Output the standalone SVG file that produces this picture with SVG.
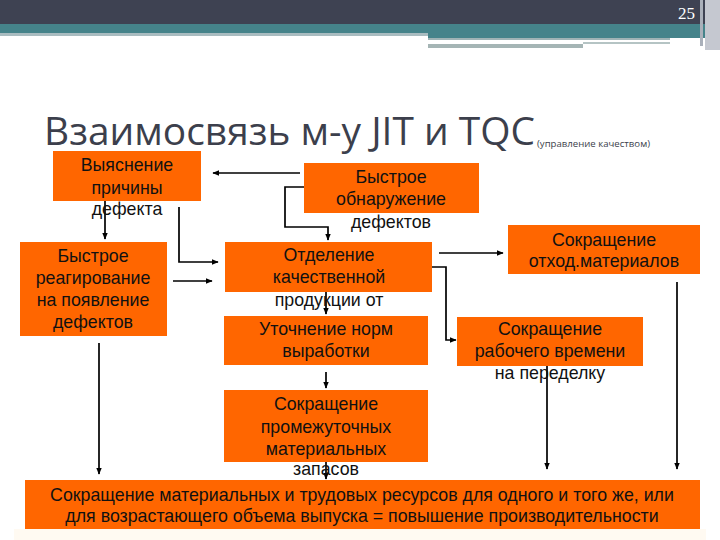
<svg xmlns="http://www.w3.org/2000/svg" width="720" height="540" viewBox="0 0 720 540">
<defs>
<style>
.box{fill:#ff6600;}
.t{font-family:"Liberation Sans",Arial,sans-serif;font-size:17.8px;fill:#111;text-anchor:middle;}
.c{fill:none;stroke:#000;stroke-width:1.7;}
</style>
<marker id="ah" viewBox="0 0 10 10" refX="9" refY="5" markerWidth="7" markerHeight="7" markerUnits="userSpaceOnUse" orient="auto">
<path d="M0,1 L10,5 L0,9 z" fill="#000"/>
</marker>
</defs>
<rect width="720" height="540" fill="#fff"/>
<g id="header">
<rect x="0" y="0" width="705" height="24" fill="#3e4252"/>
<rect x="0" y="24" width="705" height="10" fill="#45838a"/>
<rect x="0" y="33" width="428" height="3" fill="#a9bcc0"/>
<rect x="428" y="33" width="277" height="5" fill="#45838a"/>
<rect x="428" y="38" width="242" height="2" fill="#9fb3b5"/>
<rect x="428" y="40" width="242" height="4" fill="#ffffff"/>
<rect x="428" y="44" width="155" height="4" fill="#a5b5b5"/>
<rect x="583" y="42" width="87" height="2" fill="#b5c4c4"/>
<rect x="705" y="0" width="15" height="50" fill="#c5c8d0"/>
<rect x="700" y="0" width="3" height="46" fill="#aab0ba"/>
<text x="695" y="19" font-family="Liberation Serif,serif" font-size="17" fill="#fff" text-anchor="end">25</text>
</g>
<g id="title">
<text x="44" y="145" font-family="Open Sans,sans-serif" font-size="38" fill="#3c3f4c" textLength="491" lengthAdjust="spacingAndGlyphs">Взаимосвязь м-у JIT и TQC</text>
<text x="537" y="147" font-family="Open Sans,sans-serif" font-size="9" fill="#3c3f4c" textLength="113" lengthAdjust="spacingAndGlyphs">(управление качеством)</text>
</g>
<g id="connectors">
<path class="c" d="M300,173 L213,173" marker-end="url(#ah)"/>
<path class="c" d="M304,187 L285,187 L285,227 L328,227 L328,240" marker-end="url(#ah)"/>
<path class="c" d="M105,201 L105,239" marker-end="url(#ah)"/>
<path class="c" d="M179,207 L179,262 L218,262" marker-end="url(#ah)"/>
<path class="c" d="M173,281 L212,281" marker-end="url(#ah)"/>
<path class="c" d="M439,253 L503,253" marker-end="url(#ah)"/>
<path class="c" d="M432,267 L446,267 L446,340 L456,340" marker-end="url(#ah)"/>
<path class="c" d="M326,292 L326,314" marker-end="url(#ah)"/>
<path class="c" d="M326,372 L326,388" marker-end="url(#ah)"/>
<path class="c" d="M326,462 L326,479" marker-end="url(#ah)"/>
<path class="c" d="M99,343 L99,474" marker-end="url(#ah)"/>
<path class="c" d="M547,366 L547,469" marker-end="url(#ah)"/>
<path class="c" d="M677,282 L677,469" marker-end="url(#ah)"/>
</g>
<g id="n1">
<rect class="box" x="53" y="151" width="148" height="50"/>
<text class="t" x="127" y="171">Выяснение</text>
<text class="t" x="127" y="194">причины</text>
<text class="t" x="127" y="215">дефекта</text>
</g>
<g id="n2">
<rect class="box" x="304" y="163" width="175" height="50"/>
<text class="t" x="391" y="183">Быстрое</text>
<text class="t" x="391" y="205">обнаружение</text>
<text class="t" x="391" y="228">дефектов</text>
</g>
<g id="n3">
<rect class="box" x="20" y="242" width="147" height="94"/>
<text class="t" x="93" y="262">Быстрое</text>
<text class="t" x="93" y="284">реагирование</text>
<text class="t" x="93" y="306">на появление</text>
<text class="t" x="93" y="328">дефектов</text>
</g>
<g id="n4">
<rect class="box" x="225" y="242" width="207" height="50"/>
<text class="t" x="329" y="261">Отделение</text>
<text class="t" x="329" y="283">качественной</text>
<text class="t" x="329" y="306">продукции от</text>
</g>
<g id="n5">
<rect class="box" x="224" y="316" width="204" height="49"/>
<text class="t" x="326" y="335">Уточнение норм</text>
<text class="t" x="326" y="357">выработки</text>
</g>
<g id="n6">
<rect class="box" x="508" y="225" width="192" height="49"/>
<text class="t" x="604" y="246">Сокращение</text>
<text class="t" x="604" y="267">отход.материалов</text>
</g>
<g id="n7">
<rect class="box" x="457" y="317" width="186" height="49"/>
<text class="t" x="550" y="335">Сокращение</text>
<text class="t" x="550" y="357">рабочего времени</text>
<text class="t" x="550" y="379">на переделку</text>
</g>
<g id="n8">
<rect class="box" x="224" y="390" width="204" height="72"/>
<text class="t" x="326" y="410">Сокращение</text>
<text class="t" x="326" y="433">промежуточных</text>
<text class="t" x="326" y="455">материальных</text>
<text class="t" x="326" y="475">запасов</text>
</g>
<g id="n9">
<rect x="14" y="529" width="692" height="11" fill="#fffaf2"/>
<rect class="box" x="25" y="480" width="675" height="49"/>
<text class="t" x="362" y="501">Сокращение материальных и трудовых ресурсов для одного и того же, или</text>
<text class="t" x="362" y="522">для возрастающего объема выпуска = повышение производительности</text>
</g>
</svg>
